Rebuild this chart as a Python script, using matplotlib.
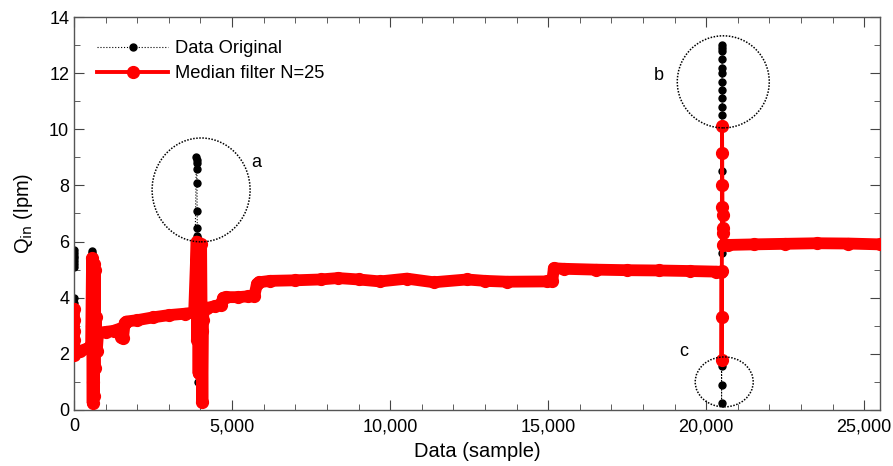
#!/usr/bin/env python3

import numpy as np
import matplotlib.pyplot as plt
from matplotlib.patches import Ellipse
from matplotlib.ticker import FuncFormatter, MultipleLocator

plt.rcParams['font.family'] = ['Liberation Sans', 'DejaVu Sans']

# Original flow data (sample index, Qin in lpm)
x_orig = [0, 0, 0, 0, 0, 0, 0, 0, 0, 0, 0,
          200, 560, 575, 580, 590, 600, 620, 700, 1000, 1600, 3000, 3800,
          3870, 3875, 3880, 3885, 3890, 3895, 3900, 3905, 3910, 3920, 3940, 4000, 4100,
          4450, 4720, 5500, 5790, 6200, 8350, 9680, 10530, 11380, 12430, 13700,
          14960, 15180, 17500, 20480,
          20486, 20488, 20490, 20492, 20494, 20496, 20497, 20498, 20499, 20500,
          20501, 20502, 20503, 20504, 20505, 20506, 20508, 20512, 20540, 25500]
y_orig = [5.7, 5.6, 5.5, 5.4, 5.3, 5.2, 5.1, 4.0, 3.8, 3.0, 2.0,
          2.1, 2.2, 5.65, 5.6, 0.3, 5.5, 2.6, 2.5, 2.8, 3.1, 3.4, 3.47,
          9.0, 8.9, 8.8, 8.6, 8.1, 7.1, 6.5, 6.2, 1.0, 6.1, 3.5, 3.6, 3.6,
          3.7, 4.0, 4.05, 4.5, 4.6, 4.7, 4.58, 4.68, 4.55, 4.65, 4.57,
          4.58, 5.05, 4.98, 4.92,
          0.25, 0.9, 1.55, 8.5, 10.2, 10.5, 10.8, 11.1, 11.4, 11.7,
          12.0, 12.2, 12.5, 12.8, 13.0, 12.9, 5.6, 5.85, 5.88, 5.9]

# Median filtered data (N=25)
x_filt = [0, 0, 0, 0, 0, 40, 200, 440, 540,
          570, 580, 590, 600, 610, 620, 630, 640, 650, 660, 670, 690, 720,
          760, 1000, 1250, 1460, 1500, 1550, 1600, 1650, 2000, 2500, 3000, 3500, 3800,
          3880, 3900, 3920, 3940, 3960, 3980, 4000, 4020, 4040, 4060, 4080, 4100,
          4200, 4450, 4650, 4720, 4800, 5200, 5500, 5700, 5790, 5850, 6200, 7000,
          7800, 8350, 9000, 9680, 10530, 11380, 12430, 13000, 13700, 14960, 15130,
          15180, 15500, 16500, 17500, 18500, 19500, 20300, 20480,
          20485, 20490, 20495, 20500, 20505, 20510, 20515, 20520, 20525, 20530,
          20540, 20700, 21500, 22500, 23500, 24500, 25500]
y_filt = [3.6, 3.2, 2.8, 2.5, 1.95, 2.05, 2.1, 2.2, 2.2,
          5.4, 3.0, 0.25, 4.8, 1.0, 5.2, 0.5, 3.4, 1.5, 5.0, 2.2, 3.3, 2.1,
          2.75, 2.78, 2.82, 2.9, 2.6, 2.55, 3.1, 3.15, 3.2, 3.3, 3.38, 3.43, 3.47,
          6.0, 2.5, 5.8, 1.3, 5.6, 3.0, 2.0, 5.9, 2.8, 0.3, 3.2, 3.6,
          3.63, 3.7, 3.75, 4.0, 4.02, 4.02, 4.05, 4.05, 4.5, 4.55, 4.6, 4.62,
          4.65, 4.7, 4.65, 4.58, 4.68, 4.55, 4.65, 4.6, 4.57, 4.58, 4.6,
          5.05, 5.03, 5.0, 4.98, 4.97, 4.95, 4.93, 4.92,
          1.78, 3.33, 4.95, 10.1, 9.15, 8.0, 7.24, 6.95, 6.5, 6.3,
          5.88, 5.88, 5.9, 5.92, 5.94, 5.93, 5.9]

# circled regions: label, centre, size (data units), label position
circ_names = ['a', 'b', 'c']
circ_xy = [(4020, 7.84), (20540, 11.69), (20570, 1.0)]
circ_wh = [(3100, 3.70), (2910, 3.28), (1835, 1.78)]
label_xy = [(5760, 8.8), (18510, 11.93), (19300, 2.07)]

x_orig = np.array(x_orig)
y_orig = np.array(y_orig)
x_filt = np.array(x_filt)
y_filt = np.array(y_filt)

fig = plt.figure(figsize=(8.93, 4.66), dpi=100)
ax = fig.add_axes([0.0829, 0.1202, 0.9026, 0.8433])

ax.plot(x_orig, y_orig, 'k:', lw=0.8, marker='o', ms=5, mec='k', mfc='k',
        label='Data Original', zorder=2)

# dense samples make the filtered curve look like a thick band
red = '#ff0000'
left = x_filt <= 20480
right = x_filt >= 20540
for m in (left, right):
    ax.plot(x_filt[m], y_filt[m], '-', c=red, lw=8.5, solid_capstyle='round',
            solid_joinstyle='round', zorder=3)
ax.plot(x_filt, y_filt, '-', c=red, lw=2.8, marker='o', ms=8.5, mec=red, mfc=red,
        label='Median filter N=25', zorder=4)

for name, cxy, wh, lxy in zip(circ_names, circ_xy, circ_wh, label_xy):
    ax.add_patch(Ellipse(cxy, wh[0], wh[1], fill=False, ec='k', lw=1.1,
                         ls=(0, (1, 1)), zorder=5))
    ax.text(lxy[0], lxy[1], name, fontsize=13, ha='center', va='center')

ax.set_xlim(0, 25500)
ax.set_ylim(0, 14)
ax.xaxis.set_major_locator(MultipleLocator(5000))
ax.xaxis.set_minor_locator(MultipleLocator(1000))
ax.yaxis.set_major_locator(MultipleLocator(2))
ax.yaxis.set_minor_locator(MultipleLocator(1))
ax.xaxis.set_major_formatter(FuncFormatter(lambda v, p: f"{v:,.0f}"))
ax.tick_params(which='both', direction='in', top=True, right=True,
               color='#444444', labelsize=13)
ax.tick_params(axis='x', pad=6)
ax.tick_params(which='major', length=7)
ax.tick_params(which='minor', length=4)
for s in ax.spines.values():
    s.set_color('#555555')
    s.set_linewidth(1.0)

ax.set_xlabel("Data (sample)", fontsize=14.5, labelpad=5)
ax.set_ylabel("Q$_{\\mathrm{in}}$ (lpm)", fontsize=14.5, labelpad=10)

ax.legend(loc='upper left', bbox_to_anchor=(0.0, 1.0), frameon=False,
          fontsize=13.2, handlelength=3.9, handletextpad=0.35,
          labelspacing=0.45, borderaxespad=0.85, borderpad=0.4)

plt.savefig("out.png", dpi=100)
